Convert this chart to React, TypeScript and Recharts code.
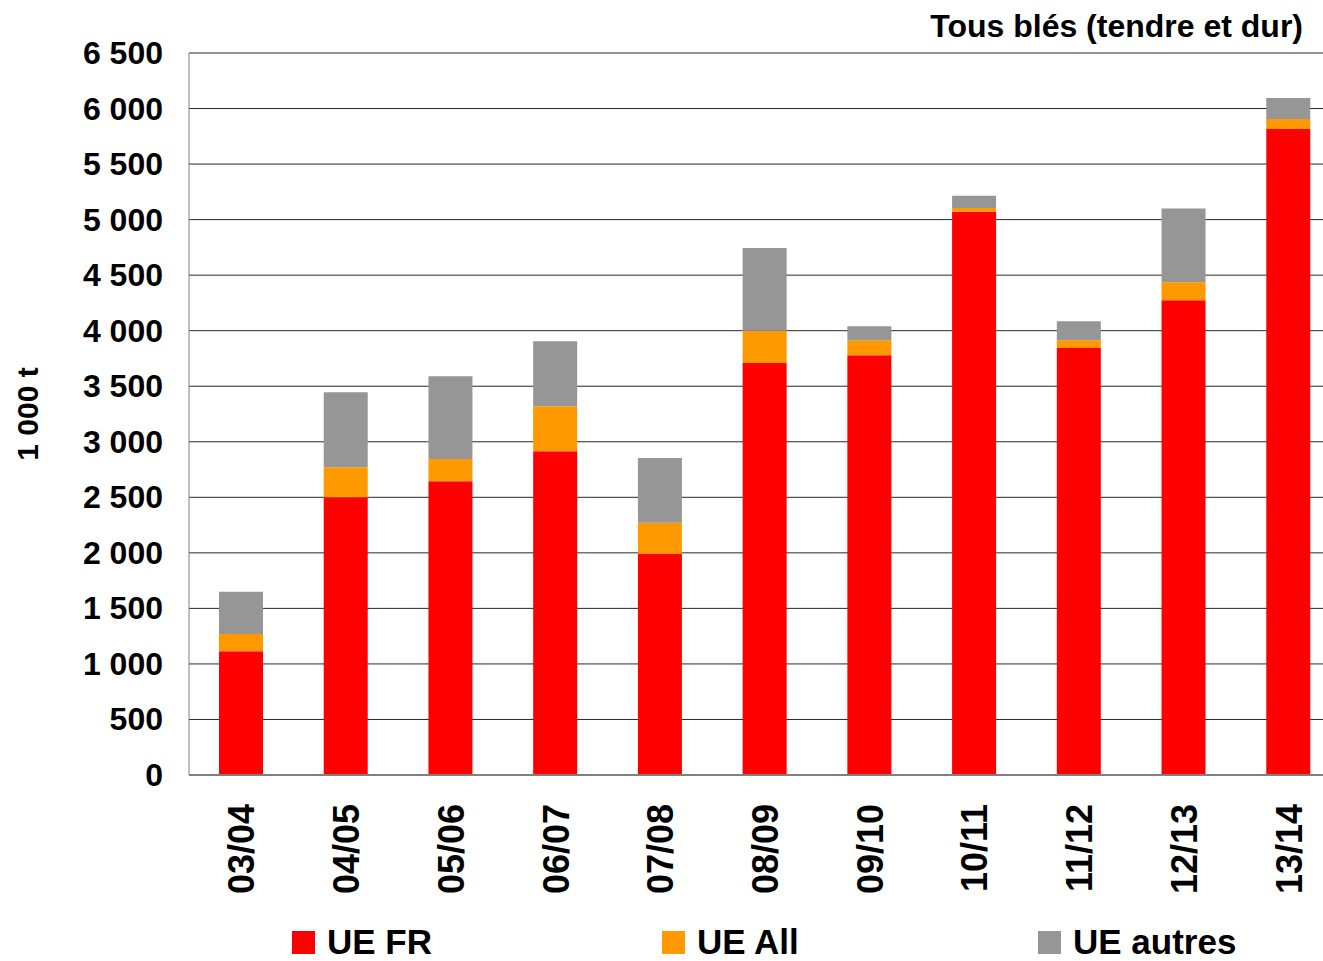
import React from 'react'
import { BarChart, Bar, XAxis, YAxis, CartesianGrid, Legend, Label } from 'recharts'

const campagnes = ['03/04', '04/05', '05/06', '06/07', '07/08', '08/09', '09/10', '10/11', '11/12', '12/13', '13/14']
const ueFr = [1115, 2500, 2645, 2915, 1990, 3710, 3780, 5070, 3845, 4275, 5815]
const ueAll = [155, 270, 200, 405, 280, 290, 135, 35, 70, 160, 90]
const ueAutres = [380, 675, 745, 585, 585, 745, 125, 110, 170, 665, 190]
const yTicks = [0, 500, 1000, 1500, 2000, 2500, 3000, 3500, 4000, 4500, 5000, 5500, 6000, 6500]

const FONT = '"Liberation Sans", Arial, sans-serif'

const series = [
  { key: 'fr', name: 'UE FR', color: '#FF0000' },
  { key: 'all', name: 'UE All', color: '#FF9900' },
  { key: 'autres', name: 'UE autres', color: '#969696' },
]

const data = campagnes.map((c, i) => ({ c, fr: ueFr[i], all: ueAll[i], autres: ueAutres[i] }))

const fmt = (v: number) => (v >= 1000 ? `${Math.floor(v / 1000)} ${String(v % 1000).padStart(3, '0')}` : String(v))

const YTick = (props: any) => {
  const { y, payload } = props
  return (
    <text x={163} y={y} dy={11} textAnchor="end" fontFamily={FONT} fontWeight="bold" fontSize={32} fill="#000">
      {fmt(payload.value)}
    </text>
  )
}

const XTick = (props: any) => {
  const { x, payload } = props
  return (
    <text transform={`translate(${x + 13},${804}) rotate(-90)`} textAnchor="end" fontFamily={FONT} fontWeight="bold" fontSize={36} fill="#000">
      {payload.value}
    </text>
  )
}

const legendPos = [292, 662, 1038]

const LegendContent = () => (
  <div style={{ position: 'relative', width: 1323, height: 56 }}>
    {series.map((s, i) => (
      <div key={s.key} style={{ position: 'absolute', left: legendPos[i], top: 19, height: 36, display: 'flex', alignItems: 'center' }}>
        <div style={{ width: 23, height: 23, background: s.color, marginRight: 12 }} />
        <span style={{ fontFamily: FONT, fontWeight: 'bold', fontSize: 35, lineHeight: '36px', color: '#000', whiteSpace: 'nowrap' }}>{s.name}</span>
      </div>
    ))}
  </div>
)

export default function App() {
  return (
    <div style={{ position: 'absolute', left: 0, top: 0, width: 1323, height: 961, background: '#fff', overflow: 'hidden' }}>
      <div style={{ position: 'absolute', right: 20, top: 8, fontFamily: FONT, fontWeight: 'bold', fontSize: 32, color: '#000' }}>
        Tous blés (tendre et dur)
      </div>
      <BarChart width={1341} height={961} data={data} margin={{ top: 53, right: 0, left: 0, bottom: 0 }} barCategoryGap={0}>
        <CartesianGrid vertical={false} stroke="#000" strokeOpacity={0.85} />
        <XAxis dataKey="c" height={130} tick={<XTick />} tickLine={false} axisLine={{ stroke: '#808080', strokeWidth: 2 }} interval={0} />
        <YAxis width={189} domain={[0, 6500]} ticks={yTicks} tick={<YTick />} axisLine={{ stroke: '#808080' }} tickLine={false} interval={0}>
          <Label
            content={() => (
              <text transform="translate(38,414) rotate(-90)" textAnchor="middle" fontFamily={FONT} fontWeight="bold" fontSize={30} fill="#000">
                1 000 t
              </text>
            )}
          />
        </YAxis>
        <Legend verticalAlign="bottom" height={56} content={<LegendContent />} wrapperStyle={{ left: 0, bottom: 0, width: 1323, overflow: 'visible' }} />
        {series.map((s) => (
          <Bar key={s.key} dataKey={s.key} name={s.name} stackId="a" fill={s.color} barSize={44} isAnimationActive={false} />
        ))}
      </BarChart>
    </div>
  )
}
